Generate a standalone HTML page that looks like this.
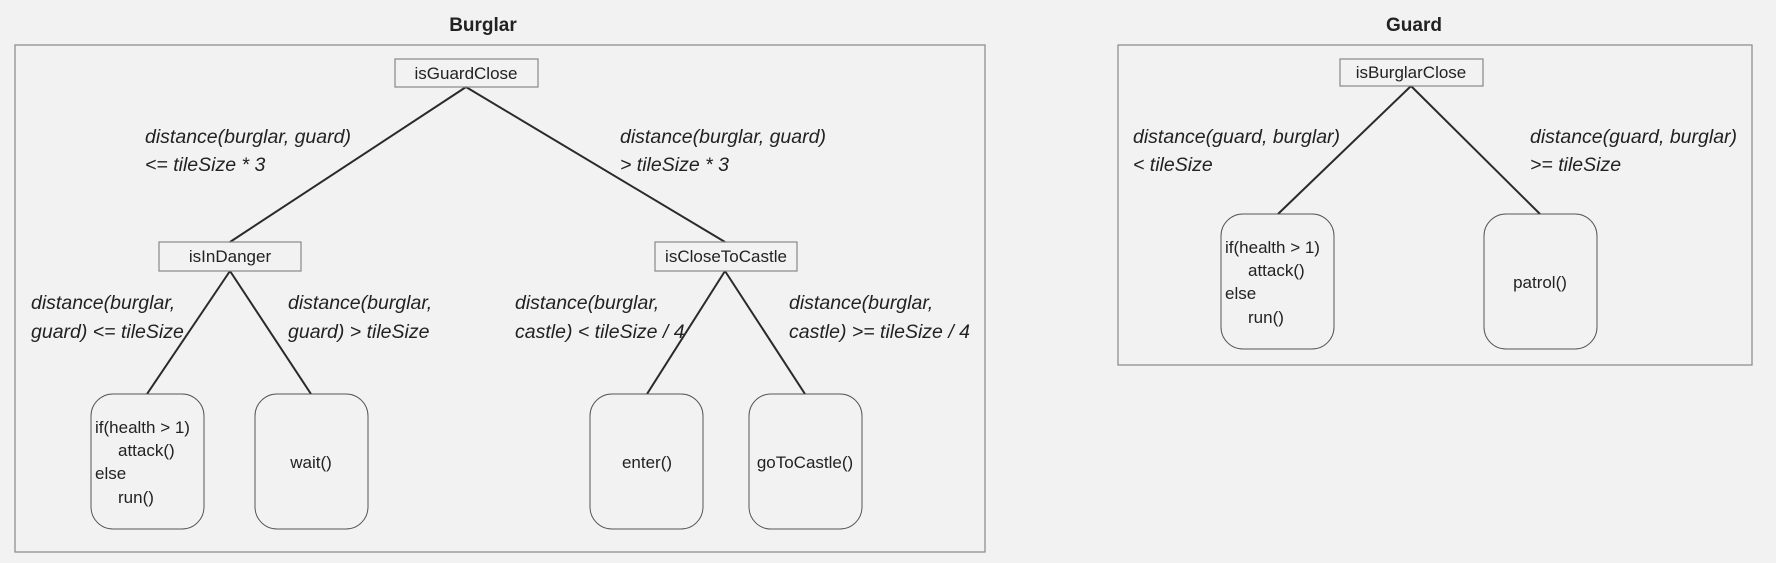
<!DOCTYPE html>
<html><head><meta charset="utf-8"><style>
html,body{margin:0;padding:0;background:#f2f2f2;}
svg{display:block;}
text{font-family:"Liberation Sans",sans-serif;fill:#222;}
.t{font-weight:bold;font-size:19px;}
.n{font-size:17px;}
.l{font-style:italic;font-size:19.5px;}
.r{fill:none;stroke:#888;stroke-width:1.2;}
.lf{fill:none;stroke:#555;stroke-width:1;}
.e{stroke:#2a2a2a;stroke-width:2;}
</style></head><body>
<svg width="1776" height="563" viewBox="0 0 1776 563" xmlns="http://www.w3.org/2000/svg">
<rect width="1776" height="563" fill="#f2f2f2"/>
<text class="t" x="483" y="31" text-anchor="middle">Burglar</text>
<text class="t" x="1414" y="31" text-anchor="middle">Guard</text>
<rect class="r" x="15" y="45" width="970" height="507"/>
<rect class="r" x="1118" y="45" width="634" height="320"/>

<line class="e" x1="466" y1="87" x2="230" y2="242"/>
<line class="e" x1="466" y1="87" x2="725" y2="242"/>
<line class="e" x1="230" y1="271" x2="147" y2="394"/>
<line class="e" x1="230" y1="271" x2="311" y2="394"/>
<line class="e" x1="725" y1="271" x2="647" y2="394"/>
<line class="e" x1="725" y1="271" x2="805" y2="394"/>
<line class="e" x1="1411" y1="86" x2="1278" y2="214"/>
<line class="e" x1="1411" y1="86" x2="1540" y2="214"/>

<rect class="r" x="395" y="59" width="143" height="28"/>
<text class="n" x="466" y="79" text-anchor="middle">isGuardClose</text>
<rect class="r" x="159" y="242" width="142" height="29"/>
<text class="n" x="230" y="262" text-anchor="middle">isInDanger</text>
<rect class="r" x="655" y="242" width="142" height="29"/>
<text class="n" x="726" y="262" text-anchor="middle">isCloseToCastle</text>
<rect class="r" x="1340" y="59" width="143" height="27"/>
<text class="n" x="1411" y="78" text-anchor="middle">isBurglarClose</text>

<rect class="lf" x="91" y="394" width="113" height="135" rx="22"/>
<text class="n" x="95" y="433">if(health &gt; 1)</text>
<text class="n" x="118" y="456">attack()</text>
<text class="n" x="95" y="479">else</text>
<text class="n" x="118" y="503">run()</text>
<rect class="lf" x="255" y="394" width="113" height="135" rx="22"/>
<text class="n" x="311" y="468" text-anchor="middle">wait()</text>
<rect class="lf" x="590" y="394" width="113" height="135" rx="22"/>
<text class="n" x="647" y="468" text-anchor="middle">enter()</text>
<rect class="lf" x="749" y="394" width="113" height="135" rx="22"/>
<text class="n" x="805" y="468" text-anchor="middle">goToCastle()</text>

<rect class="lf" x="1221" y="214" width="113" height="135" rx="22"/>
<text class="n" x="1225" y="253">if(health &gt; 1)</text>
<text class="n" x="1248" y="276">attack()</text>
<text class="n" x="1225" y="299">else</text>
<text class="n" x="1248" y="323">run()</text>
<rect class="lf" x="1484" y="214" width="113" height="135" rx="22"/>
<text class="n" x="1540" y="288" text-anchor="middle">patrol()</text>

<text class="l" x="145" y="143">distance(burglar, guard)</text>
<text class="l" x="145" y="171">&lt;= tileSize * 3</text>
<text class="l" x="620" y="143">distance(burglar, guard)</text>
<text class="l" x="620" y="171">&gt; tileSize * 3</text>
<text class="l" x="31" y="309">distance(burglar,</text>
<text class="l" x="31" y="338">guard) &lt;= tileSize</text>
<text class="l" x="288" y="309">distance(burglar,</text>
<text class="l" x="288" y="338">guard) &gt; tileSize</text>
<text class="l" x="515" y="309">distance(burglar,</text>
<text class="l" x="515" y="338">castle) &lt; tileSize / 4</text>
<text class="l" x="789" y="309">distance(burglar,</text>
<text class="l" x="789" y="338">castle) &gt;= tileSize / 4</text>
<text class="l" x="1133" y="143">distance(guard, burglar)</text>
<text class="l" x="1133" y="171">&lt; tileSize</text>
<text class="l" x="1530" y="143">distance(guard, burglar)</text>
<text class="l" x="1530" y="171">&gt;= tileSize</text>
</svg>
</body></html>
